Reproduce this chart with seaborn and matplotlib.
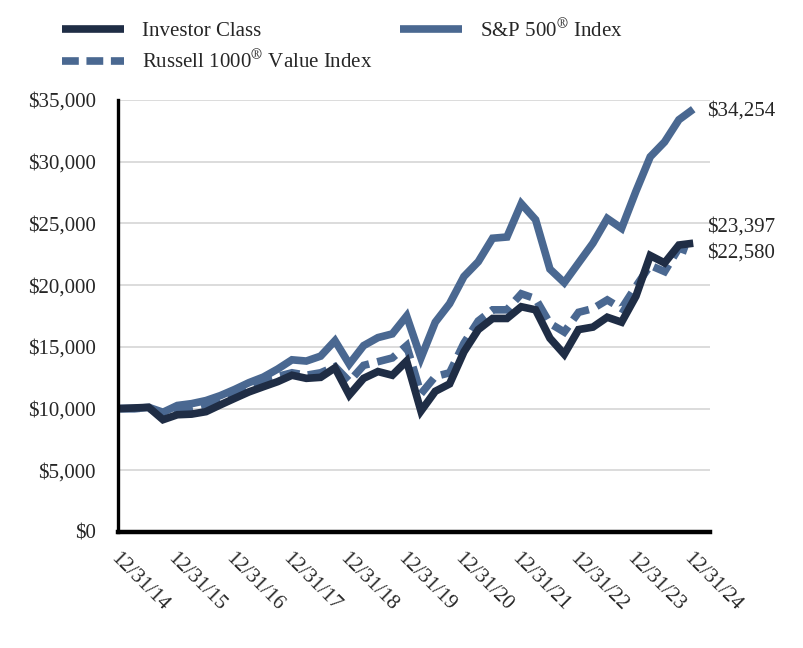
import matplotlib
matplotlib.use("Agg")
import matplotlib.pyplot as plt
import seaborn as sns
import pandas as pd
from matplotlib.lines import Line2D
from matplotlib.ticker import FuncFormatter

# quarterly growth of $10,000, 12/31/14 .. 12/31/24
investor = [10000, 10050, 10100, 9100, 9500, 9550, 9750, 10300, 10830, 11350,
            11770, 12180, 12700, 12450, 12530, 13300, 11100, 12450, 13000, 12700,
            13850, 9800, 11400, 12000, 14600, 16400, 17300, 17300, 18250, 18000,
            15700, 14400, 16400, 16600, 17400, 17000, 19100, 22400, 21800, 23250,
            23397]
sp500 = [10000, 10000, 10100, 9700, 10250, 10400, 10650, 11050, 11550, 12100,
         12550, 13200, 13950, 13850, 14250, 15500, 13600, 15100, 15750, 16050,
         17500, 14100, 17000, 18500, 20700, 21900, 23800, 23900, 26600, 25300,
         21300, 20200, 21800, 23400, 25400, 24600, 27600, 30400, 31600, 33400,
         34254]
russell = [10000, 10000, 10050, 9400, 9950, 10100, 10350, 10800, 11300, 11800,
           12250, 12600, 12900, 12700, 12900, 13400, 12200, 13500, 13800, 14100,
           15100, 11200, 12600, 12900, 15300, 17100, 18000, 18000, 19300, 18900,
           16900, 16200, 17800, 18100, 18800, 18100, 19900, 21600, 21100, 23000,
           22580]
year_labels = ["12/31/14", "12/31/15", "12/31/16", "12/31/17", "12/31/18", "12/31/19",
               "12/31/20", "12/31/21", "12/31/22", "12/31/23", "12/31/24"]

names = ["Investor Class", "S&P 500$^{\\circledR}$ Index", "Russell 1000$^{\\circledR}$ Value Index"]
dark = "#1f2d45"
blue = "#4a6891"

df = pd.DataFrame({"q": range(len(investor)), "inv": investor, "sp": sp500, "rus": russell})

sns.set_style("white")
plt.rcParams["font.family"] = ["Liberation Serif", "DejaVu Serif"]
plt.rcParams["mathtext.fontset"] = "stix"

fig = plt.figure(figsize=(8.04, 6.48), dpi=100)
ax = fig.add_axes([118 / 804, 1 - 532 / 648, (710 - 118) / 804, (532 - 100) / 648])

lw = 5.5
sns.lineplot(data=df, x="q", y="rus", ax=ax, color=blue, lw=lw, dashes=False)
ax.lines[-1].set_linestyle((0, (2.6, 1.1)))
sns.lineplot(data=df, x="q", y="sp", ax=ax, color=blue, lw=lw)
sns.lineplot(data=df, x="q", y="inv", ax=ax, color=dark, lw=lw)
for ln in ax.lines:
    ln.set_solid_joinstyle("miter")
    ln.set_dash_joinstyle("miter")
    ln.set_solid_capstyle("butt")
    ln.set_dash_capstyle("butt")

ax.set_xlim(-0.14, 41.17)
ax.set_ylim(0, 35000)
ax.set_yticks(range(0, 35001, 5000))
ax.yaxis.set_major_formatter(FuncFormatter(lambda v, p: f"${v:,.0f}"))
ax.set_xticks(range(0, 41, 4))
ax.set_xticklabels(year_labels, rotation=-45, ha="left", va="top", rotation_mode="anchor")
ax.tick_params(axis="both", length=0, labelsize=15)
ax.tick_params(axis="y", pad=16)
ax.tick_params(axis="x", pad=12)
ax.set_xlabel("")
ax.set_ylabel("")

ax.grid(axis="y", color="#d9d9d9", lw=1.3)
ax.grid(axis="x", visible=False)
ax.set_axisbelow(True)
for s in ["top", "right"]:
    ax.spines[s].set_visible(False)
ax.spines["left"].set_color("black")
ax.spines["left"].set_linewidth(2.4)
ax.spines["bottom"].set_color("black")
ax.spines["bottom"].set_linewidth(3.2)

# end value labels
ax.annotate("$34,254", xy=(40, sp500[-1]), xytext=(10, -1), textcoords="offset points",
            va="center", ha="left", fontsize=15, annotation_clip=False)
ax.annotate("$23,397", xy=(40, investor[-1]), xytext=(10, 12), textcoords="offset points",
            va="center", ha="left", fontsize=15, annotation_clip=False)
ax.annotate("$22,580", xy=(40, russell[-1]), xytext=(10, 0), textcoords="offset points",
            va="center", ha="left", fontsize=15, annotation_clip=False)

handles = [
    Line2D([], [], color=dark, lw=lw, solid_capstyle="butt"),
    Line2D([], [], color=blue, lw=lw, linestyle=(0, (2.2, 1.0)), dash_capstyle="butt"),
    Line2D([], [], color=blue, lw=lw, solid_capstyle="butt"),
]
fig.legend(handles, [names[0], names[2], names[1]], ncol=2, loc="upper left",
           bbox_to_anchor=(62 / 804, 1 - 19 / 648), frameon=False, fontsize=15,
           handlelength=3.0, handletextpad=0.85, columnspacing=1.3,
           labelspacing=0.45, borderpad=0, borderaxespad=0)

fig.savefig("out.png", dpi=100)
